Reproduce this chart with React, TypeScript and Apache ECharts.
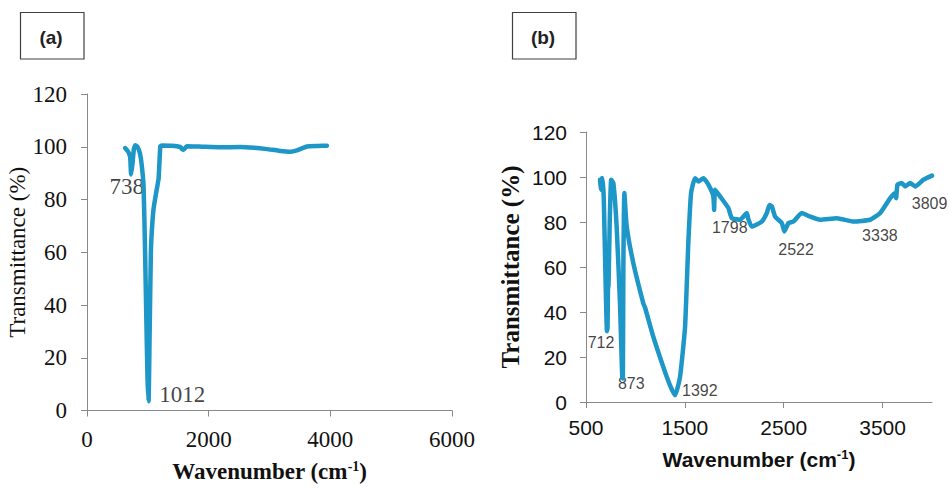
import React, { useEffect, useRef } from "react";
import * as echarts from "echarts";

// Panel (a) spectrum
const waveA = [629, 680, 710, 725, 745, 770, 794, 830, 870, 900, 930, 955, 975, 995, 1012, 1030, 1050, 1068, 1095, 1140, 1177, 1205, 1230, 1400, 1533, 1560, 1588, 1640, 1900, 2200, 2519, 2750, 2958, 3150, 3341, 3450, 3615, 3800, 3944];
const transA = [99.5, 98, 96, 89.5, 93, 99, 100.6, 100, 97.5, 93, 85, 60, 35, 12, 3.5, 30, 60, 69, 76.6, 83, 87.9, 100.2, 100.5, 100.4, 99.9, 99.2, 98.9, 100.2, 100, 99.8, 99.9, 99.6, 99.1, 98.5, 98.1, 98.6, 100.1, 100.3, 100.4];

// Panel (b) spectrum
const waveB = [642, 649, 660, 669, 680, 700, 712, 718, 722, 728, 740, 755, 777, 810, 844, 860, 867, 873, 878, 888, 912, 979, 1080, 1097, 1181, 1282, 1350, 1401, 1451, 1502, 1535, 1563, 1603, 1637, 1687, 1738, 1788, 1796, 1806, 1856, 1940, 1975, 2059, 2127, 2144, 2177, 2278, 2329, 2355, 2380, 2413, 2481, 2507, 2548, 2598, 2683, 2767, 2868, 3037, 3206, 3374, 3476, 3577, 3627, 3637, 3651, 3695, 3729, 3779, 3830, 3914, 4000];
const transB = [98.8, 94.3, 99.5, 99.5, 90, 50, 31.5, 33, 50, 52, 80, 98.8, 97.3, 78, 43.8, 20, 11.1, 10.5, 60, 92.9, 78, 61.7, 43.8, 42, 29, 15.6, 7.4, 3, 11.1, 33.4, 70.6, 92.9, 99.5, 98, 99.5, 96.6, 91.4, 85.4, 94.3, 91.4, 86.2, 81.7, 81, 84, 81, 78, 80.2, 84, 87.6, 87, 82.4, 79.5, 75.8, 79.5, 80.2, 84, 82.4, 81, 81.7, 80.2, 81, 84, 90.6, 92.9, 90.6, 96.6, 97.3, 95.8, 97.3, 95.8, 98.8, 100.6];

// Peak labels: [wavenumber, transmittance, text]
const peakLabelsA: [number, number, string][] = [
  [654, 84.9, "738"],
  [1566, 6.1, "1012"],
];
const peakLabelsB: [number, number, string][] = [
  [652, 26.3, "712"],
  [958, 8.3, "873"],
  [1651, 5.2, "1392"],
  [1954, 77.4, "1798"],
  [2625, 67.6, "2522"],
  [3473, 73.8, "3338"],
  [3975, 88.1, "3809"],
];

const xTicksB = [500, 1500, 2500, 3500];

const LINE = "#1d96c8";
const AXIS = "#898989";
const TXT = "#111111";
const SERIF = "Liberation Serif";
const SANS = "Liberation Sans";

const plain = (v: number) => String(v);

export default function App() {
  const ref = useRef<HTMLDivElement>(null);
  useEffect(() => {
    if (!ref.current) return;
    const chart = echarts.init(ref.current, undefined, { renderer: "svg" });
    const axisBase = {
      axisLine: { show: true, onZero: false, lineStyle: { color: AXIS, width: 1 } },
      axisTick: { show: true, inside: false, length: 6, lineStyle: { color: AXIS, width: 1 } },
      splitLine: { show: false },
    };
    const peakLabel = (family: string, size: number) => ({
      show: true,
      position: [0, 0],
      align: "center",
      verticalAlign: "middle",
      formatter: (p: any) => p.data[2],
      fontFamily: family,
      fontSize: size,
      color: TXT,
      textBorderWidth: 0,
    });
    const option: any = {
      animation: false,
      backgroundColor: "#ffffff",
      grid: [
        { left: 87, top: 94, width: 365, height: 320 },
        { left: 586, top: 132, width: 346, height: 270 },
      ],
      xAxis: [
        {
          ...axisBase,
          gridIndex: 0,
          type: "value",
          min: 0,
          max: 6000,
          interval: 2000,
          axisLabel: { fontFamily: SERIF, fontSize: 23, color: TXT, margin: 17, formatter: plain },
          name: "{n|Wavenumber (cm}{s|-1}{n|)}",
          nameLocation: "middle",
          nameGap: 49,
          nameTextStyle: {
            rich: {
              n: { fontFamily: SERIF, fontSize: 23, fontWeight: "bold", color: TXT },
              s: { fontFamily: SERIF, fontSize: 14, fontWeight: "bold", color: TXT, padding: [0, 0, 10, 0] },
            },
          },
        },
        {
          ...axisBase,
          gridIndex: 1,
          type: "value",
          min: 500,
          max: 4000,
          interval: 1000,
          axisTick: { ...axisBase.axisTick, customValues: xTicksB },
          axisLabel: { fontFamily: SANS, fontSize: 21, color: TXT, margin: 15, customValues: xTicksB, formatter: plain },
          name: "{n|Wavenumber (cm}{s|-1}{n|)}",
          nameLocation: "middle",
          nameGap: 46,
          nameTextStyle: {
            rich: {
              n: { fontFamily: SANS, fontSize: 21, fontWeight: "bold", color: TXT },
              s: { fontFamily: SANS, fontSize: 13, fontWeight: "bold", color: TXT, padding: [0, 0, 9, 0] },
            },
          },
        },
      ],
      yAxis: [
        {
          ...axisBase,
          gridIndex: 0,
          type: "value",
          min: 0,
          max: 120,
          interval: 20,
          axisLabel: { fontFamily: SERIF, fontSize: 23, color: TXT, margin: 20, formatter: plain },
          name: "Transmittance (%)",
          nameLocation: "middle",
          nameGap: 55,
          nameTextStyle: { fontFamily: SERIF, fontSize: 23, color: TXT },
        },
        {
          ...axisBase,
          gridIndex: 1,
          type: "value",
          min: 0,
          max: 120,
          interval: 20,
          axisLabel: { fontFamily: SANS, fontSize: 21, color: TXT, margin: 19, formatter: plain },
          name: "Transmittance (%)",
          nameLocation: "middle",
          nameGap: 63,
          nameTextStyle: { fontFamily: SERIF, fontSize: 25, fontWeight: "bold", color: TXT },
        },
      ],
      series: [
        {
          type: "line",
          xAxisIndex: 0,
          yAxisIndex: 0,
          data: waveA.map((w, i) => [w, transA[i]]),
          showSymbol: false,
          smooth: 0.15,
          lineStyle: { color: LINE, width: 4.5, cap: "round", join: "round" },
          silent: true,
        },
        {
          type: "line",
          xAxisIndex: 1,
          yAxisIndex: 1,
          data: waveB.map((w, i) => [w, transB[i]]),
          showSymbol: false,
          smooth: 0.15,
          lineStyle: { color: LINE, width: 4.5, cap: "round", join: "round" },
          silent: true,
        },
        {
          type: "scatter",
          xAxisIndex: 0,
          yAxisIndex: 0,
          data: peakLabelsA,
          symbolSize: 0,
          silent: true,
          label: peakLabel(SERIF, 23),
        },
        {
          type: "scatter",
          xAxisIndex: 1,
          yAxisIndex: 1,
          data: peakLabelsB,
          symbolSize: 0,
          silent: true,
          label: peakLabel(SANS, 16),
        },
      ],
      graphic: [
        {
          type: "rect",
          shape: { x: 20.5, y: 12.5, width: 63.5, height: 46.5 },
          style: { fill: "#ffffff", stroke: "#404040", lineWidth: 1.2 },
        },
        {
          type: "text",
          x: 51,
          y: 37,
          style: { text: "(a)", fontFamily: SANS, fontWeight: "bold", fontSize: 19, fill: "#222", align: "center", verticalAlign: "middle" },
        },
        {
          type: "rect",
          shape: { x: 512.5, y: 12.5, width: 63.5, height: 46.5 },
          style: { fill: "#ffffff", stroke: "#404040", lineWidth: 1.2 },
        },
        {
          type: "text",
          x: 543,
          y: 37,
          style: { text: "(b)", fontFamily: SANS, fontWeight: "bold", fontSize: 19, fill: "#222", align: "center", verticalAlign: "middle" },
        },
      ],
    };
    chart.setOption(option);
    return () => chart.dispose();
  }, []);
  return (
    <div
      ref={ref}
      style={{ position: "fixed", left: 0, top: 0, width: 949, height: 488, background: "#fff" }}
    />
  );
}
